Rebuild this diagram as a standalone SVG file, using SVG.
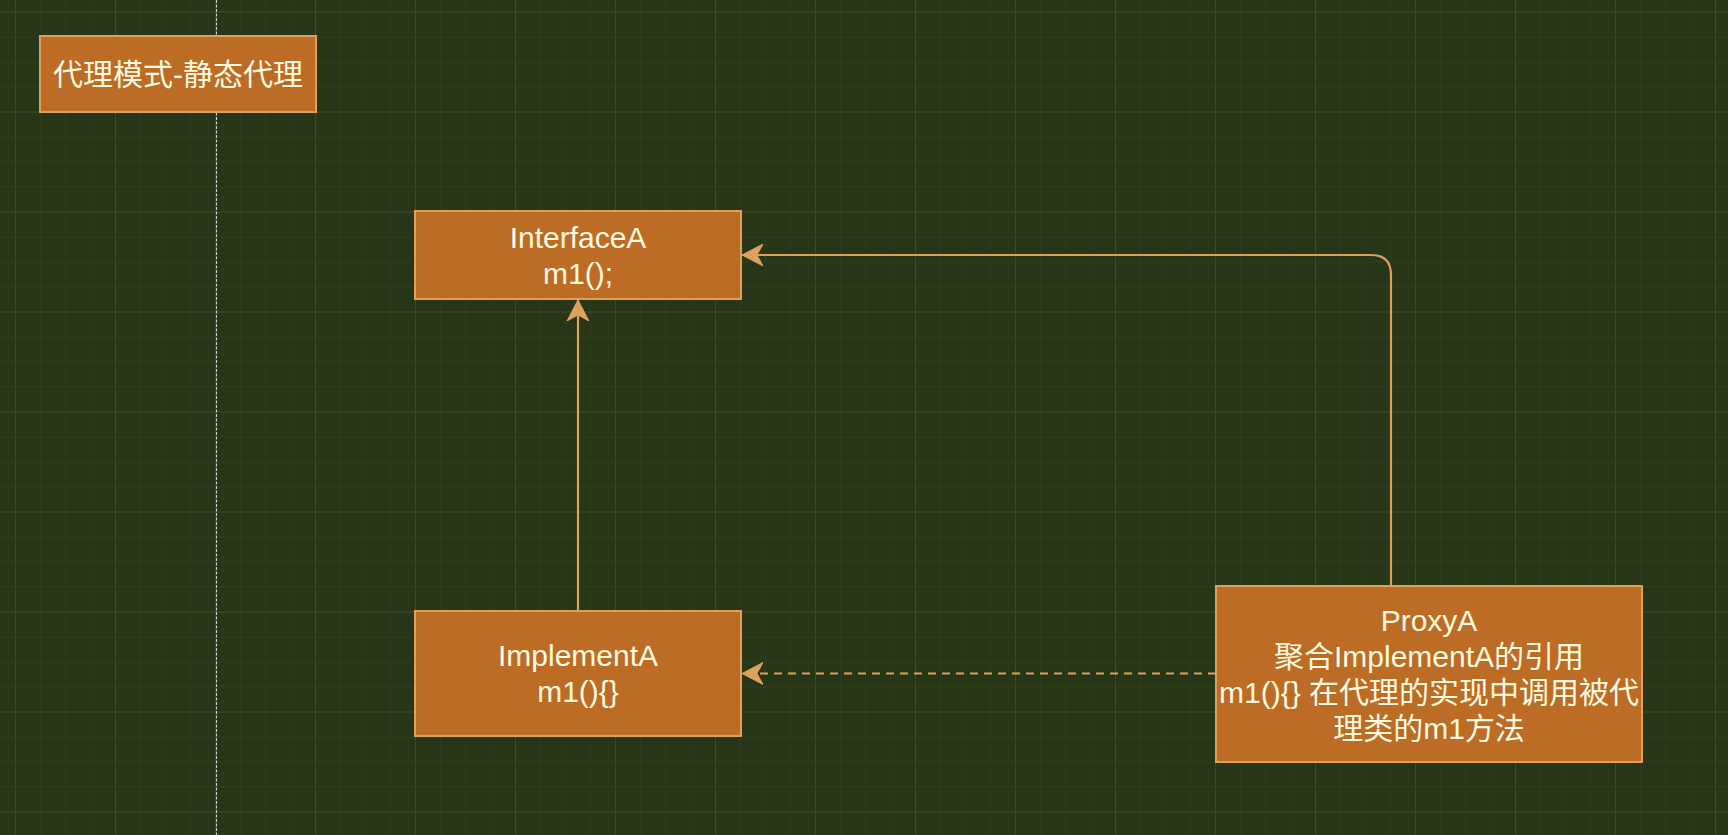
<svg xmlns="http://www.w3.org/2000/svg" width="1728" height="835" viewBox="0 0 1728 835">
  <defs>
    <pattern id="minor" x="15" y="11.5" width="25" height="25" patternUnits="userSpaceOnUse">
      <path d="M0 0.5H25M0.5 0V25" fill="none" stroke="#2e3b1f" stroke-width="1"/>
    </pattern>
    <pattern id="major" x="15" y="11.5" width="100" height="100" patternUnits="userSpaceOnUse">
      <path d="M0 0.5H100M0.5 0V100" fill="none" stroke="#3c4b29" stroke-width="1"/>
    </pattern>
    <marker id="arrow" viewBox="0 0 22 24" refX="21" refY="12" markerWidth="22" markerHeight="24" markerUnits="userSpaceOnUse" orient="auto">
      <path d="M0 1 L21 12 L0 23 L6 12 Z" fill="#DDA15E" stroke="#DDA15E" stroke-width="1" stroke-linejoin="miter"/>
    </marker>
  </defs>
  <style>
    .node rect { fill: #BC6C25; stroke: #DDA15E; stroke-width: 2; }
    .node text { fill: #FEFAE0; font-family: "Liberation Sans", "Noto Sans CJK SC", sans-serif; font-size: 30px; text-anchor: middle; }
    .edge { fill: none; stroke: #DDA15E; stroke-width: 2.2; }
  </style>
  <rect width="1728" height="835" fill="#283618"/>
  <rect width="1728" height="835" fill="url(#minor)"/>
  <rect width="1728" height="835" fill="url(#major)"/>
  <line x1="216.5" y1="0" x2="216.5" y2="835" stroke="#d8d8d8" stroke-width="1" stroke-dasharray="3 1.5"/>

  <g id="connectors">
    <path class="edge" d="M578 611 V300" marker-end="url(#arrow)"/>
    <path class="edge" d="M1391 586 V275 Q1391 255 1371 255 H742" marker-end="url(#arrow)"/>
    <path class="edge" d="M1216 673.5 H742" stroke-dasharray="8 6" marker-end="url(#arrow)"/>
  </g>

  <g id="title" class="node">
    <rect x="40" y="36" width="276" height="76"/>
    <text x="178" y="84.5">代理模式-静态代理</text>
  </g>
  <g id="interfaceA" class="node">
    <rect x="415" y="211" width="326" height="88"/>
    <text x="578" y="248">InterfaceA</text>
    <text x="578" y="284">m1();</text>
  </g>
  <g id="implementA" class="node">
    <rect x="415" y="611" width="326" height="125"/>
    <text x="578" y="666">ImplementA</text>
    <text x="578" y="702">m1(){}</text>
  </g>
  <g id="proxyA" class="node">
    <rect x="1216" y="586" width="426" height="176"/>
    <text x="1429" y="631">ProxyA</text>
    <text x="1429" y="667">聚合ImplementA的引用</text>
    <text x="1429" y="703">m1(){} 在代理的实现中调用被代</text>
    <text x="1429" y="739">理类的m1方法</text>
  </g>
</svg>
